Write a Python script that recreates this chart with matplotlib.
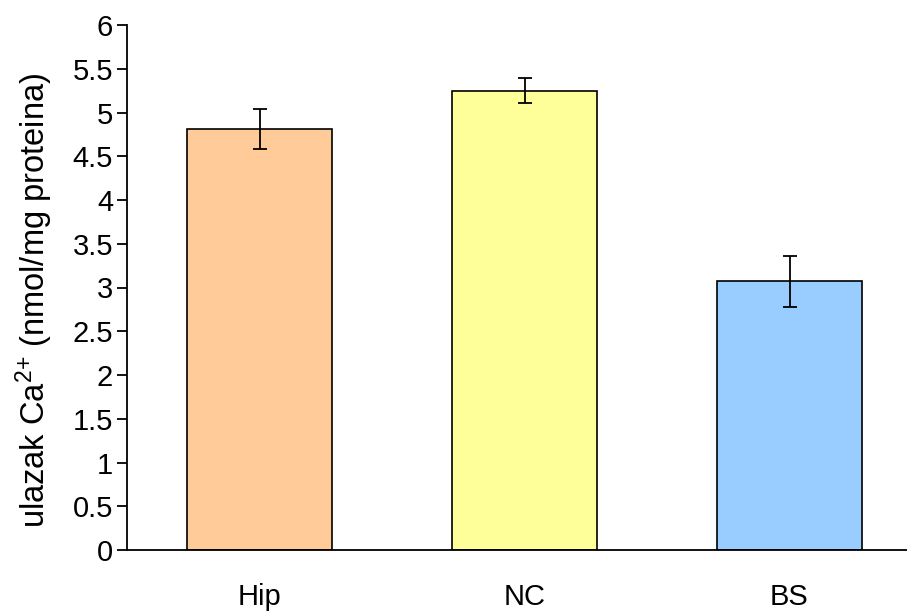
import matplotlib
matplotlib.use('Agg')
import matplotlib.pyplot as plt
import numpy as np

categories = ['Hip', 'NC', 'BS']
values = [4.81, 5.25, 3.07]
errors = [0.23, 0.14, 0.29]
colors = ['#FFCC99', '#FFFF99', '#99CCFF']
ytick_labels = ['0', '0.5', '1', '1.5', '2', '2.5', '3', '3.5', '4', '4.5', '5', '5.5', '6']

plt.rcParams['font.family'] = ['Liberation Sans', 'DejaVu Sans']
plt.rcParams['mathtext.fontset'] = 'custom'
plt.rcParams['mathtext.rm'] = 'Liberation Sans'
plt.rcParams['mathtext.it'] = 'Liberation Sans'
plt.rcParams['mathtext.bf'] = 'Liberation Sans:bold'

fig = plt.figure(figsize=(9.07, 6.13), dpi=100)
ax = fig.add_axes([127 / 907, 63 / 613, 795 / 907, 525 / 613])

x = np.arange(len(categories))
ax.bar(x, values, width=0.55, color=colors, edgecolor='black', linewidth=1.2,
       yerr=errors, capsize=5, error_kw=dict(elinewidth=1.3, capthick=1.3, ecolor='black'))

ax.set_xlim(-0.5, 2.5)
ax.set_ylim(0, 6)
ax.set_yticks(np.arange(0, 6.01, 0.5))
ax.set_yticklabels(ytick_labels)
ax.set_xticks(x)
ax.set_xticklabels(categories)

ax.spines['top'].set_visible(False)
ax.spines['right'].set_visible(False)
ax.spines['left'].set_linewidth(1.3)
ax.spines['bottom'].set_linewidth(1.3)
ax.tick_params(axis='y', labelsize=21, length=7, width=1.3, direction='out', pad=3)
ax.tick_params(axis='x', labelsize=21, length=0, pad=24)

ax.set_ylabel('ulazak Ca$^{2{+}}$ (nmol/mg proteina)', fontsize=23.5)
ax.yaxis.set_label_coords(-0.091, 0.476)

fig.savefig('out.png', dpi=100)
